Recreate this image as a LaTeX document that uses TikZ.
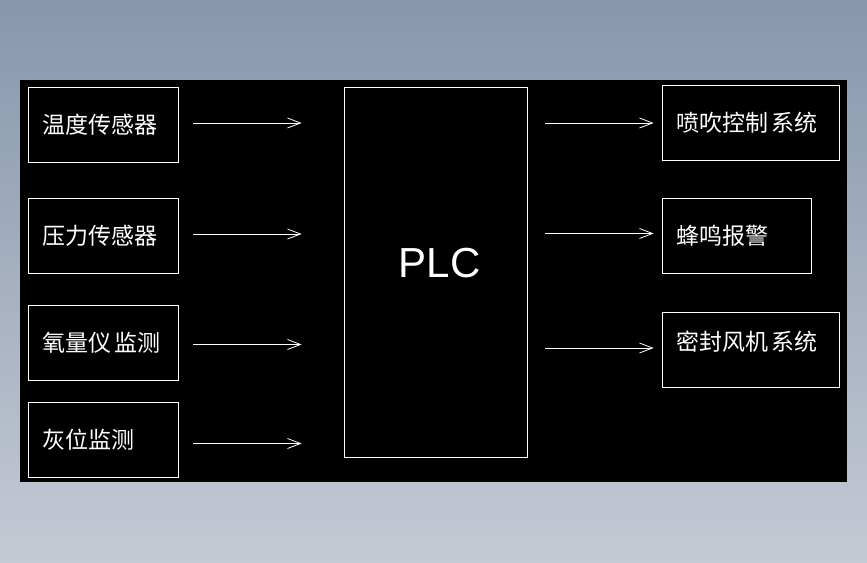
\documentclass[tikz,border=0pt]{standalone}
\usepackage{fontspec}
\usepackage{tikz}
\usetikzlibrary{arrows.meta, positioning, calc}
\newfontfamily\cjk{Noto Sans CJK SC}
\newfontfamily\plcfont{Liberation Sans}
\definecolor{BgTop}{RGB}{134,151,173}
\definecolor{BgBottom}{RGB}{197,201,212}

\begin{document}
\begin{tikzpicture}[x=1pt, y=-1pt,
    box/.style={draw=white, line width=0.8pt, text=white, inner xsep=14pt, inner ysep=0pt,
                text width=122pt, minimum height=75pt, font=\cjk\fontsize{23}{23}\selectfont},
    link/.style={white, line width=0.8pt, -{Straight Barb[length=13pt, width=10pt]}}]
    % background and panel
    \fill[top color=BgTop, bottom color=BgBottom] (0,0) rectangle (867,562);
    \fill[black] (20,80) rectangle (847,482);

    % inputs
    \node[box] (T) at (103,124.5) {温度传感器};
    \node[box] (P) at (103,235.5) {压力传感器};
    \node[box] (O) at (103,342.5) {氧量仪\,监测};
    \node[box] (A) at (103,439.5) {灰位监测};

    % controller
    \node[draw=white, line width=0.8pt, minimum width=183pt, minimum height=370pt,
          label={[white, font=\plcfont\fontsize{42}{42}\selectfont, xshift=4pt, yshift=9pt]center:PLC}] (PLC) at (435.5,272) {};

    % outputs
    \node[box, text width=149pt] (S) at (750.5,123)   {喷吹控制\,系统};
    \node[box, text width=121pt] (B) at (736.5,235.5) {蜂鸣报警};
    \node[box, text width=149pt, text depth=18pt] (F) at (750.5,350) {密封风机\,系统};

    \path[link] ($(T.east)+(15,-1.5)$) edge ($(T.east -| PLC.west)+(-42,-1.5)$);
    \path[link] ($(P.east)+(15,-1.5)$) edge ($(P.east -| PLC.west)+(-42,-1.5)$);
    \path[link] ($(O.east)+(15,2)$)    edge ($(O.east -| PLC.west)+(-42,2)$);
    \path[link] ($(A.east)+(15,4)$)    edge ($(A.east -| PLC.west)+(-42,4)$);
    \path[link] ($(S.west -| PLC.east)+(18,0)$)  edge ($(S.west)+(-8,0)$);
    \path[link] ($(B.west -| PLC.east)+(18,-2)$) edge ($(B.west)+(-8,-2)$);
    \path[link] ($(F.west -| PLC.east)+(18,-2)$) edge ($(F.west)+(-8,-2)$);
\end{tikzpicture}
\end{document}
